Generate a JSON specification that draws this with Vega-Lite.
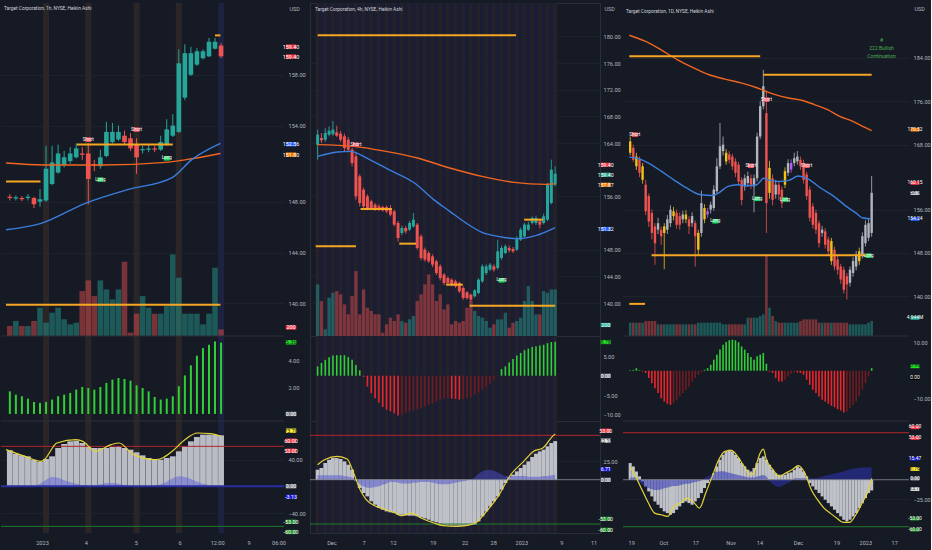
{
"$schema":"https://vega.github.io/schema/vega-lite/v6.json",
"background":"#161a25",
"padding":0,
"spacing":0,
"config":{
 "view":{"stroke":null},
 "axis":{"labelColor":"#b2b5be","labelFont":"Roboto","labelFontSize":5.6,"domain":false,"ticks":false,"gridColor":"#1e222d","labelPadding":4,"labelOverlap":false,"labelFlush":false},
 "text":{"font":"Roboto"},
 "title":{"font":"Roboto"}
},
"datasets":{
 "refs":[{"r":60,"k":"r"},{"r":-60,"k":"g"}],
 "p1lab":[{"i":6,"t":"2023"},{"i":13,"t":"4"},{"i":21,"t":"5"},{"i":28,"t":"6"},{"i":34,"t":"12:00"},{"i":39,"t":"9"},{"i":43.8,"t":"06:00"}],
 "p2lab":[{"i":4.85,"t":"Dec"},{"i":12.96,"t":"7"},{"i":20.35,"t":"12"},{"i":30.4,"t":"19"},{"i":38.4,"t":"22"},{"i":45.6,"t":"28"},{"i":52.7,"t":"2023"},{"i":62.8,"t":"9"},{"i":70.9,"t":"11"}],
 "p3lab":[{"i":2,"t":"19"},{"i":12,"t":"Oct"},{"i":22,"t":"17"},{"i":33,"t":"Nov"},{"i":42,"t":"14"},{"i":54,"t":"Dec"},{"i":66,"t":"19"},{"i":75,"t":"2023"},{"i":84,"t":"17"}],
 "p1":[
  {"i":0,"o":148.4,"c":148.3,"h":148.6,"l":148.1,"v":30,"m":1.7,"g":54,"b":1},
  {"i":1,"o":148.25,"c":148.35,"h":148.5,"l":148.1,"v":45,"m":1.45,"g":49,"b":1},
  {"i":2,"o":148.3,"c":148.2,"h":148.45,"l":148.05,"v":30,"m":1.33,"g":46.5,"b":1},
  {"i":3,"o":148.3,"c":148.4,"h":148.6,"l":148.1,"v":30,"m":1.15,"g":45,"b":0.5},
  {"i":4,"o":148.3,"c":147.8,"h":148.4,"l":147.5,"v":45,"m":0.9,"g":40,"b":0.5},
  {"i":5,"o":148.0,"c":148.2,"h":149.0,"l":147.6,"v":85,"m":0.83,"g":36.5,"b":4},
  {"i":6,"o":148.1,"c":150.6,"h":152.4,"l":148.0,"v":40,"m":0.9,"g":41,"b":10},
  {"i":7,"o":149.4,"c":151.1,"h":152.4,"l":149.3,"v":70,"m":1.08,"g":45,"b":14},
  {"i":8,"o":150.3,"c":151.8,"h":152.5,"l":150.2,"v":85,"m":1.33,"g":57.5,"b":13},
  {"i":9,"o":150.9,"c":151.5,"h":152.0,"l":150.7,"v":50,"m":1.45,"g":63.5,"b":9},
  {"i":10,"o":151.2,"c":151.8,"h":152.3,"l":151.0,"v":35,"m":1.58,"g":67.5,"b":6},
  {"i":11,"o":151.5,"c":152.2,"h":152.6,"l":151.4,"v":40,"m":1.83,"g":68.5,"b":4},
  {"i":12,"o":151.8,"c":151.7,"h":152.3,"l":151.3,"v":135,"m":2.03,"g":65,"b":2},
  {"i":13,"o":151.8,"c":149.8,"h":152.6,"l":147.8,"v":167,"m":1.95,"g":60,"b":1},
  {"i":14,"o":150.95,"c":150.85,"h":151.3,"l":150.4,"v":120,"m":1.83,"g":57.5,"b":1},
  {"i":15,"o":150.8,"c":151.5,"h":152.1,"l":150.6,"v":167,"m":2.03,"g":57.5,"b":3},
  {"i":16,"o":151.6,"c":153.5,"h":154.3,"l":151.5,"v":140,"m":2.33,"g":57.5,"b":5},
  {"i":17,"o":152.7,"c":153.5,"h":154.2,"l":152.6,"v":110,"m":2.58,"g":59,"b":5},
  {"i":18,"o":152.9,"c":153.5,"h":154.0,"l":152.8,"v":140,"m":2.7,"g":60,"b":4},
  {"i":19,"o":153.2,"c":152.7,"h":153.6,"l":152.5,"v":223,"m":2.63,"g":57.5,"b":2},
  {"i":20,"o":153.0,"c":152.2,"h":153.4,"l":152.0,"v":10,"m":2.5,"g":55,"b":1},
  {"i":21,"o":152.5,"c":151.5,"h":153.0,"l":150.2,"v":67,"m":2.15,"g":51,"b":0},
  {"i":22,"o":152.05,"c":152.15,"h":152.4,"l":151.8,"v":120,"m":1.95,"g":46.5,"b":0},
  {"i":23,"o":152.1,"c":152.2,"h":152.5,"l":151.9,"v":85,"m":1.7,"g":42.5,"b":0},
  {"i":24,"o":152.2,"c":152.1,"h":152.4,"l":151.9,"v":67,"m":1.28,"g":40,"b":1},
  {"i":25,"o":152.1,"c":152.7,"h":153.2,"l":152.0,"v":67,"m":1.08,"g":40,"b":3},
  {"i":26,"o":152.5,"c":153.7,"h":154.5,"l":152.4,"v":90,"m":1.15,"g":42.5,"b":7},
  {"i":27,"o":153.2,"c":154.0,"h":154.9,"l":153.1,"v":245,"m":1.33,"g":45,"b":12},
  {"i":28,"o":153.5,"c":158.9,"h":160.0,"l":153.4,"v":175,"m":2.08,"g":52.5,"b":15},
  {"i":29,"o":156.2,"c":159.7,"h":160.4,"l":156.0,"v":67,"m":2.9,"g":60,"b":14},
  {"i":30,"o":158.0,"c":159.7,"h":160.2,"l":157.9,"v":67,"m":3.65,"g":67.5,"b":11},
  {"i":31,"o":158.8,"c":159.85,"h":160.1,"l":158.7,"v":67,"m":4.38,"g":74,"b":7},
  {"i":32,"o":159.3,"c":159.85,"h":160.0,"l":159.2,"v":35,"m":4.95,"g":77.5,"b":4},
  {"i":33,"o":159.45,"c":160.6,"h":160.9,"l":159.4,"v":67,"m":5.2,"g":77.5,"b":2},
  {"i":34,"o":160.05,"c":160.6,"h":160.9,"l":160.0,"v":205,"m":5.45,"g":77.5,"b":1},
  {"i":35,"o":160.3,"c":159.45,"h":160.5,"l":159.3,"v":20,"m":5.36,"g":76.5,"b":1}
 ],
 "p1band":[{"i":6,"c":"o"},{"i":13,"c":"o"},{"i":21,"c":"o"},{"i":28,"c":"o"},{"i":35,"c":"b"}],
 "p1ema":[
  {"s":"o","i":-0.63,"v":151.05},{"s":"o","i":5.7,"v":150.9},{"s":"o","i":15.2,"v":150.9},{"s":"o","i":25.8,"v":151.1},{"s":"o","i":29,"v":151.3},{"s":"o","i":34.9,"v":151.8},
  {"s":"b","i":-0.63,"v":145.8},{"s":"b","i":5.2,"v":146.3},{"s":"b","i":12.6,"v":147.9},{"s":"b","i":19.5,"v":148.95},{"s":"b","i":26.9,"v":149.9},{"s":"b","i":30.1,"v":151.3},{"s":"b","i":34.9,"v":152.6}
 ],
 "p1y":[{"i":-0.63,"v":55},{"i":2.5,"v":45},{"i":5.1,"v":37.5},{"i":5.7,"v":40},{"i":7.8,"v":65},{"i":11,"v":70},{"i":12.1,"v":67.5},{"i":14.2,"v":52.5},{"i":16.8,"v":62.5},{"i":18.1,"v":65},{"i":20.5,"v":47.5},{"i":24.2,"v":40},{"i":25.3,"v":42.5},{"i":26.9,"v":52.5},{"i":29,"v":70},{"i":31.1,"v":80},{"i":33.2,"v":79},{"i":35,"v":75}],
 "p1lvl":[{"a":-0.63,"b":5.08,"v":149.6},{"a":11.1,"b":27,"v":152.5},{"a":-0.63,"b":34.9,"v":139.9},{"a":34,"b":34.9,"v":161.1}],
 "p1sig":[{"i":13,"v":152.89,"t":"Short"},{"i":21,"v":153.68,"t":"Short"},{"i":15,"v":149.74,"t":"Long"},{"i":26,"v":151.42,"t":"Long"}],
 "p1tag":[
  {"p":"a","t":"159.40","y":160.21,"c":"red"},{"p":"a","t":"159.40","y":159.43,"c":"red"},{"p":"a","t":"152.56","y":152.53,"c":"blue"},{"p":"a","t":"151.80","y":151.71,"c":"orange"},{"p":"a","t":"200","y":138.1,"c":"red"},
  {"p":"m","t":"5.36","y":5.39,"c":"green"},{"p":"m","t":"0.00","y":0,"c":"gray"},
  {"p":"o","t":"73.70","y":83.4,"c":"yellow"},{"p":"o","t":"60.00","y":68.4,"c":"red"},{"p":"o","t":"53.00","y":53.4,"c":"red"},{"p":"o","t":"0.00","y":0,"c":"gray"},{"p":"o","t":"-3.13","y":-15.6,"c":"navy"},{"p":"o","t":"-53.00","y":-53.1,"c":"dgreen"},{"p":"o","t":"-60.00","y":-68.5,"c":"dgreen"}
 ],
 "p2":[
  {"i":0,"o":163.75,"c":165.25,"h":166,"l":161.5,"v":155,"m":2.4,"g":13.5,"b":6},
  {"i":1,"o":164.75,"c":164.4,"h":165.5,"l":164,"v":105,"m":3.3,"g":15.8,"b":6},
  {"i":2,"o":164.5,"c":165.5,"h":166.2,"l":164.2,"v":20,"m":4.1,"g":22.6,"b":6},
  {"i":3,"o":165.25,"c":165.85,"h":166.5,"l":165,"v":115,"m":4.8,"g":27,"b":6},
  {"i":4,"o":165.3,"c":166,"h":167.3,"l":165.1,"v":130,"m":5.2,"g":29.3,"b":6},
  {"i":5,"o":165.6,"c":165.1,"h":166.6,"l":164.9,"v":135,"m":5.3,"g":29.3,"b":6},
  {"i":6,"o":165.4,"c":164.5,"h":165.8,"l":164.2,"v":125,"m":5.3,"g":28,"b":6},
  {"i":7,"o":165,"c":163.25,"h":165.4,"l":162.8,"v":95,"m":5.3,"g":24.8,"b":5},
  {"i":8,"o":164.5,"c":163,"h":164.9,"l":162.6,"v":65,"m":4.8,"g":20.3,"b":4},
  {"i":9,"o":163,"c":161,"h":163.3,"l":160.5,"v":120,"m":4.1,"g":13.5,"b":3},
  {"i":10,"o":162,"c":156,"h":162.5,"l":155.5,"v":195,"m":2.8,"g":-1,"b":-2},
  {"i":11,"o":159,"c":155,"h":159.3,"l":154.5,"v":65,"m":1.4,"g":-11.3,"b":-6},
  {"i":12,"o":157,"c":154.5,"h":157.3,"l":154,"v":140,"m":-0.3,"g":-18,"b":-9},
  {"i":13,"o":156,"c":154.25,"h":156.3,"l":153.9,"v":85,"m":-2.8,"g":-22.6,"b":-11},
  {"i":14,"o":155.25,"c":154.25,"h":155.5,"l":154,"v":75,"m":-4.5,"g":-29.3,"b":-11},
  {"i":15,"o":154.75,"c":154,"h":155,"l":153.8,"v":65,"m":-5.8,"g":-33.8,"b":-10},
  {"i":16,"o":154.5,"c":154,"h":154.8,"l":153.8,"v":65,"m":-6.9,"g":-38.3,"b":-9},
  {"i":17,"o":154.4,"c":153.9,"h":154.6,"l":153.7,"v":10,"m":-8.1,"g":-40.6,"b":-7},
  {"i":18,"o":154.4,"c":153.75,"h":154.6,"l":153.5,"v":35,"m":-8.8,"g":-42.9,"b":-5},
  {"i":19,"o":154.25,"c":153.25,"h":154.7,"l":153,"v":55,"m":-9.2,"g":-44.2,"b":-3},
  {"i":20,"o":153.75,"c":151.75,"h":154,"l":151.5,"v":45,"m":-9.7,"g":-45.1,"b":-3},
  {"i":21,"o":152,"c":149.75,"h":152.3,"l":149.2,"v":65,"m":-10.3,"g":-47.4,"b":-4},
  {"i":22,"o":150.5,"c":151.25,"h":151.6,"l":150.2,"v":45,"m":-10.1,"g":-47.4,"b":-5},
  {"i":23,"o":151.25,"c":150.75,"h":151.6,"l":150.4,"v":40,"m":-9.7,"g":-48.3,"b":-5},
  {"i":24,"o":151,"c":152,"h":152.3,"l":150.8,"v":50,"m":-9.2,"g":-48.7,"b":-5},
  {"i":25,"o":151.5,"c":152.5,"h":153.5,"l":151.3,"v":60,"m":-9,"g":-48.7,"b":-4},
  {"i":26,"o":151.75,"c":148.25,"h":152,"l":148,"v":105,"m":-8.6,"g":-49.6,"b":-4},
  {"i":27,"o":150,"c":146.75,"h":150.3,"l":146.4,"v":125,"m":-8.4,"g":-51,"b":-3},
  {"i":28,"o":148,"c":146.5,"h":148.3,"l":146.2,"v":155,"m":-7.9,"g":-52.3,"b":-3},
  {"i":29,"o":147.5,"c":146.25,"h":147.8,"l":146,"v":185,"m":-7.5,"g":-54.1,"b":-3},
  {"i":30,"o":147,"c":145.75,"h":147.3,"l":145.4,"v":155,"m":-7.1,"g":-56.4,"b":-4},
  {"i":31,"o":146.25,"c":144.5,"h":146.5,"l":144.2,"v":105,"m":-6.6,"g":-57.7,"b":-5},
  {"i":32,"o":145.5,"c":143.75,"h":145.8,"l":143.4,"v":125,"m":-6.2,"g":-59.5,"b":-6},
  {"i":33,"o":144.25,"c":143,"h":144.5,"l":142.7,"v":80,"m":-5.9,"g":-60.9,"b":-6},
  {"i":34,"o":143.75,"c":143,"h":144,"l":142.8,"v":95,"m":-5.8,"g":-61.3,"b":-6},
  {"i":35,"o":143.5,"c":142.75,"h":143.7,"l":142.5,"v":35,"m":-5.9,"g":-61.8,"b":-5},
  {"i":36,"o":143.25,"c":142.5,"h":143.5,"l":142.3,"v":45,"m":-6,"g":-61.8,"b":-4},
  {"i":37,"o":143,"c":141.75,"h":143.2,"l":141.5,"v":40,"m":-6.2,"g":-62.2,"b":-3},
  {"i":38,"o":142.25,"c":140.75,"h":142.5,"l":140.5,"v":45,"m":-6,"g":-62.2,"b":-2},
  {"i":39,"o":141.6,"c":140.75,"h":141.8,"l":140.5,"v":85,"m":-5.8,"g":-61.8,"b":-1},
  {"i":40,"o":141.25,"c":140.5,"h":141.4,"l":140.2,"v":105,"m":-5.5,"g":-61.3,"b":1},
  {"i":41,"o":141,"c":141.9,"h":142.1,"l":140.8,"v":75,"m":-4.9,"g":-60.9,"b":3},
  {"i":42,"o":141.5,"c":143.5,"h":143.7,"l":141.3,"v":60,"m":-4.3,"g":-56.4,"b":8},
  {"i":43,"o":143.25,"c":145.5,"h":145.8,"l":143,"v":55,"m":-3.6,"g":-49.6,"b":11},
  {"i":44,"o":144.5,"c":145.5,"h":145.8,"l":144.2,"v":45,"m":-2.9,"g":-42.9,"b":13},
  {"i":45,"o":145,"c":145.75,"h":146,"l":144.8,"v":25,"m":-2.1,"g":-36.1,"b":13},
  {"i":46,"o":145.5,"c":145,"h":145.8,"l":144.7,"v":35,"m":-1,"g":-29.3,"b":12},
  {"i":47,"o":145.25,"c":147.75,"h":149.5,"l":145,"v":50,"m":-0.2,"g":-22.6,"b":10},
  {"i":48,"o":146.75,"c":148.25,"h":148.6,"l":146.5,"v":50,"m":1.7,"g":-13.5,"b":7},
  {"i":49,"o":147.5,"c":148.5,"h":148.8,"l":147.3,"v":70,"m":2.4,"g":-4.5,"b":5},
  {"i":50,"o":148.25,"c":147.9,"h":148.6,"l":147.6,"v":25,"m":3.4,"g":3.6,"b":5},
  {"i":51,"o":148.1,"c":147.75,"h":148.4,"l":147.5,"v":40,"m":4.3,"g":6.8,"b":5},
  {"i":52,"o":148,"c":149.75,"h":150,"l":147.8,"v":45,"m":5.2,"g":11.3,"b":5},
  {"i":53,"o":149.5,"c":151,"h":151.3,"l":149.3,"v":55,"m":5.9,"g":15.8,"b":5},
  {"i":54,"o":150,"c":151.75,"h":152,"l":149.8,"v":105,"m":6.6,"g":20.3,"b":5},
  {"i":55,"o":151,"c":151.75,"h":152.2,"l":150.8,"v":150,"m":7,"g":24.8,"b":4},
  {"i":56,"o":152,"c":152.75,"h":153,"l":151.8,"v":105,"m":7.4,"g":30.7,"b":4},
  {"i":57,"o":152,"c":152.75,"h":153.1,"l":151.7,"v":65,"m":7.6,"g":35.2,"b":4},
  {"i":58,"o":152.25,"c":151.75,"h":152.6,"l":151.2,"v":65,"m":7.8,"g":38.3,"b":4},
  {"i":59,"o":152,"c":153,"h":153.4,"l":151.8,"v":135,"m":8,"g":40.6,"b":5},
  {"i":60,"o":152.5,"c":157.75,"h":158,"l":152.3,"v":130,"m":8.4,"g":45.1,"b":5},
  {"i":61,"o":155,"c":160,"h":161.5,"l":154.8,"v":140,"m":8.7,"g":49.6,"b":6},
  {"i":62,"o":157.75,"c":159.4,"h":160.5,"l":157.5,"v":140,"m":8.78,"g":52.18,"b":6.7}
 ],
 "p2ema":[
  {"s":"o","i":0,"v":163.75},{"s":"o","i":9.4,"v":163.5},{"s":"o","i":17.8,"v":162.75},{"s":"o","i":26.1,"v":161.75},{"s":"o","i":34.5,"v":160.25},{"s":"o","i":42.9,"v":159},{"s":"o","i":51.3,"v":158.1},{"s":"o","i":59.6,"v":157.8},{"s":"o","i":62,"v":157.87},
  {"s":"b","i":0,"v":162},{"s":"b","i":5.2,"v":162.65},{"s":"b","i":8.5,"v":162.75},{"s":"b","i":13.6,"v":161.5},{"s":"b","i":18.6,"v":160},{"s":"b","i":25.3,"v":158},{"s":"b","i":30.3,"v":155.5},{"s":"b","i":34.5,"v":153.75},{"s":"b","i":38.7,"v":152},{"s":"b","i":42.9,"v":150.6},{"s":"b","i":47.1,"v":150},{"s":"b","i":52.1,"v":149.65},{"s":"b","i":57.1,"v":150.15},{"s":"b","i":62,"v":151.32}
 ],
 "p2y":[{"i":0,"v":20.3},{"i":1.8,"v":27},{"i":5.2,"v":31.6},{"i":7.7,"v":28},{"i":9.4,"v":9},{"i":11.1,"v":-13.5},{"i":12.7,"v":-27},{"i":15.2,"v":-36},{"i":17.8,"v":-40.6},{"i":20.3,"v":-45.1},{"i":21.9,"v":-48.7},{"i":24.5,"v":-45.1},{"i":27,"v":-51.9},{"i":30.3,"v":-58.6},{"i":32.8,"v":-62.2},{"i":36.2,"v":-63.1},{"i":38.7,"v":-62.2},{"i":41.2,"v":-58.6},{"i":43.7,"v":-45.1},{"i":47.1,"v":-22.6},{"i":50.4,"v":6.8},{"i":53.8,"v":24.8},{"i":56.3,"v":38.3},{"i":58.8,"v":42.9},{"i":61.3,"v":58.6},{"i":62,"v":62}],
 "p2lvl":[{"a":0,"b":51.8,"v":180.15},{"a":11.2,"b":19.4,"v":154.1},{"a":-0.5,"b":10,"v":148.5},{"a":21.3,"b":25.7,"v":148.9},{"a":33.5,"b":37.9,"v":142.75},{"a":39.7,"b":62,"v":139.6},{"a":53.9,"b":58.8,"v":152.5}],
 "p2sig":[{"i":10,"v":163.75,"t":"Short"},{"i":48,"v":143.4,"t":"Long"}],
 "p2tag":[
  {"p":"a","t":"159.40","y":160.74,"c":"red"},{"p":"a","t":"159.40","y":159.24,"c":"teal"},{"p":"a","t":"157.87","y":157.74,"c":"orange"},{"p":"a","t":"151.32","y":151.1,"c":"blue"},{"p":"a","t":"200","y":136.7,"c":"teal"},
  {"p":"m","t":"8.78","y":8.7,"c":"green"},{"p":"m","t":"0.00","y":0,"c":"gray"},
  {"p":"o","t":"53.00","y":66.3,"c":"red"},{"p":"o","t":"52.18","y":52.8,"c":"white"},{"p":"o","t":"6.71","y":14.1,"c":"navy"},{"p":"o","t":"0.00","y":0,"c":"gray"},{"p":"o","t":"-53.00","y":-52.8,"c":"dgreen"},{"p":"o","t":"-60.00","y":-67.7,"c":"dgreen"}
 ],
 "p3":[
  {"i":0,"o":168.6,"c":166.5,"h":169.5,"l":166,"k":"y","v":40,"m":0.2,"g":21.3,"b":3},
  {"i":1,"o":167.4,"c":165.2,"h":168,"l":164.8,"k":"r","v":40,"m":0.3,"g":17,"b":3},
  {"i":2,"o":165.8,"c":164,"h":166.5,"l":163.3,"k":"y","v":40,"m":0.9,"g":10.6,"b":3},
  {"i":3,"o":165.2,"c":162.8,"h":165.8,"l":162,"k":"r","v":40,"m":0.2,"g":4.3,"b":-3},
  {"i":4,"o":164,"c":161.5,"h":164.6,"l":160.8,"k":"y","v":40,"m":-0.3,"g":-2.1,"b":-6},
  {"i":5,"o":160.6,"c":155.7,"h":161.5,"l":155,"k":"r","v":45,"m":-0.8,"g":-8.5,"b":-9},
  {"i":6,"o":158.5,"c":153.8,"h":159,"l":152.8,"k":"r","v":45,"m":-2.6,"g":-14.9,"b":-11},
  {"i":7,"o":155.4,"c":151.7,"h":156,"l":150.5,"k":"r","v":45,"m":-4.4,"g":-21.3,"b":-12},
  {"i":8,"o":152.9,"c":149.8,"h":153.5,"l":145.8,"k":"r","v":45,"m":-6.2,"g":-27.7,"b":-13},
  {"i":9,"o":152.3,"c":153.5,"h":154.5,"l":151.5,"k":"g","v":35,"m":-7.9,"g":-31.9,"b":-13},
  {"i":10,"o":152.3,"c":151.1,"h":152.9,"l":149.5,"k":"r","v":35,"m":-9.7,"g":-36.2,"b":-12},
  {"i":11,"o":151.7,"c":152.9,"h":153.5,"l":145,"k":"y","v":35,"m":-10.9,"g":-40.4,"b":-11},
  {"i":12,"o":152.3,"c":154.2,"h":155,"l":151.5,"k":"g","v":35,"m":-11.7,"g":-42.6,"b":-10},
  {"i":13,"o":153.5,"c":156,"h":156.8,"l":152.8,"k":"g","v":35,"m":-12.1,"g":-44.7,"b":-9},
  {"i":14,"o":155.7,"c":154.8,"h":156.5,"l":154,"k":"y","v":35,"m":-11.5,"g":-42.6,"b":-8},
  {"i":15,"o":155.4,"c":153.2,"h":156,"l":152.5,"k":"r","v":35,"m":-10.3,"g":-38.3,"b":-8},
  {"i":16,"o":154.8,"c":153.2,"h":155.5,"l":152.3,"k":"r","v":35,"m":-9.1,"g":-34,"b":-7},
  {"i":17,"o":154.2,"c":155.1,"h":155.8,"l":153.5,"k":"g","v":35,"m":-7.9,"g":-29.8,"b":-6},
  {"i":18,"o":154.2,"c":155.1,"h":155.9,"l":153.5,"k":"y","v":35,"m":-6.8,"g":-27.7,"b":-5},
  {"i":19,"o":154.2,"c":152.9,"h":154.8,"l":151.5,"k":"r","v":35,"m":-5.6,"g":-29.8,"b":-5},
  {"i":20,"o":153.5,"c":154.8,"h":155.5,"l":152.8,"k":"g","v":35,"m":-3.8,"g":-31.9,"b":-4},
  {"i":21,"o":153.5,"c":151.1,"h":154,"l":145.5,"k":"r","v":35,"m":-2.6,"g":-27.7,"b":-3},
  {"i":22,"o":151.7,"c":148.6,"h":152.3,"l":147.5,"k":"y","v":40,"m":-1.4,"g":-23.4,"b":-2},
  {"i":23,"o":151.7,"c":157.2,"h":159.5,"l":151,"k":"g","v":40,"m":-0.6,"g":-17,"b":-1},
  {"i":24,"o":156.3,"c":154.2,"h":157,"l":153.5,"k":"y","v":40,"m":0.3,"g":-10.6,"b":2},
  {"i":25,"o":155.1,"c":155.7,"h":156.3,"l":154.5,"k":"p","v":40,"m":0.9,"g":-4.3,"b":4},
  {"i":26,"o":156,"c":156.9,"h":157.5,"l":155.3,"k":"g","v":40,"m":2.1,"g":1.3,"b":6},
  {"i":27,"o":156.3,"c":159.7,"h":160.5,"l":155.8,"k":"g","v":40,"m":3.9,"g":8.5,"b":8},
  {"i":28,"o":159.4,"c":164,"h":165.5,"l":159,"k":"g","v":40,"m":5.7,"g":17,"b":10},
  {"i":29,"o":164,"c":167.7,"h":172,"l":163.5,"k":"g","v":40,"m":7.5,"g":25.5,"b":11},
  {"i":30,"o":166.8,"c":168,"h":169.5,"l":166,"k":"g","v":35,"m":9.2,"g":31.9,"b":11},
  {"i":31,"o":166.5,"c":164.9,"h":167.2,"l":164.3,"k":"y","v":35,"m":10.2,"g":36.2,"b":10},
  {"i":32,"o":166.2,"c":165.2,"h":166.8,"l":164.5,"k":"r","v":35,"m":10.8,"g":38.3,"b":9},
  {"i":33,"o":165.8,"c":164,"h":166.3,"l":163.3,"k":"r","v":35,"m":11,"g":36.2,"b":8},
  {"i":34,"o":164.9,"c":162.8,"h":165.5,"l":162,"k":"r","v":35,"m":10.8,"g":31.9,"b":7},
  {"i":35,"o":164.3,"c":161.2,"h":164.8,"l":160.5,"k":"r","v":35,"m":10.1,"g":27.7,"b":6},
  {"i":36,"o":161.5,"c":157.8,"h":162,"l":156.8,"k":"r","v":35,"m":8.6,"g":21.3,"b":5},
  {"i":37,"o":160.3,"c":161.8,"h":162.5,"l":159.5,"k":"g","v":35,"m":7.5,"g":17,"b":4},
  {"i":38,"o":160.9,"c":162.2,"h":163,"l":160.2,"k":"g","v":55,"m":6.3,"g":12.8,"b":3},
  {"i":39,"o":161.8,"c":160.6,"h":162.5,"l":159.8,"k":"r","v":55,"m":4.9,"g":10.6,"b":3},
  {"i":40,"o":160.3,"c":161.8,"h":162.5,"l":155.5,"k":"g","v":55,"m":3.9,"g":14.9,"b":3},
  {"i":41,"o":161.8,"c":169.5,"h":170.2,"l":161.2,"k":"g","v":55,"m":5.1,"g":21.3,"b":4},
  {"i":42,"o":169.5,"c":175.1,"h":176,"l":169,"k":"g","v":60,"m":5.7,"g":27.7,"b":5},
  {"i":43,"o":175.1,"c":178.8,"h":181.8,"l":174.5,"k":"g","v":65,"m":6.3,"g":29.8,"b":6},
  {"i":44,"o":173.8,"c":157.2,"h":178,"l":151.7,"k":"r","v":245,"m":2.5,"g":25.5,"b":4},
  {"i":45,"o":163.7,"c":159.1,"h":165,"l":158,"k":"y","v":85,"m":-0.3,"g":19.1,"b":-2},
  {"i":46,"o":161.8,"c":157.8,"h":162.5,"l":156.8,"k":"r","v":60,"m":-0.8,"g":12.8,"b":-5},
  {"i":47,"o":158.8,"c":160.6,"h":161.5,"l":158,"k":"g","v":45,"m":-2.6,"g":8.5,"b":-8},
  {"i":48,"o":160.6,"c":158.8,"h":161.2,"l":157.8,"k":"r","v":40,"m":-3.8,"g":6.4,"b":-9},
  {"i":49,"o":159.7,"c":157.2,"h":160.3,"l":156.3,"k":"r","v":40,"m":-3.8,"g":6.4,"b":-8},
  {"i":50,"o":160.6,"c":163.1,"h":163.8,"l":160,"k":"y","v":40,"m":-3.2,"g":6.4,"b":-6},
  {"i":51,"o":162.8,"c":164.6,"h":165.3,"l":162.2,"k":"g","v":40,"m":-2,"g":8.5,"b":-4},
  {"i":52,"o":163.4,"c":164.6,"h":165.3,"l":162.8,"k":"p","v":40,"m":-1.1,"g":9.4,"b":-2},
  {"i":53,"o":164.6,"c":165.5,"h":166.5,"l":164,"k":"g","v":40,"m":-0.6,"g":12.8,"b":2},
  {"i":54,"o":164.9,"c":165.8,"h":166.8,"l":164.3,"k":"g","v":40,"m":-0.6,"g":17,"b":2},
  {"i":55,"o":165.2,"c":164,"h":165.8,"l":163.3,"k":"r","v":45,"m":-0.8,"g":14.9,"b":2},
  {"i":56,"o":164.6,"c":161.5,"h":165.2,"l":160.8,"k":"r","v":50,"m":-1.4,"g":10.6,"b":2},
  {"i":57,"o":162.5,"c":158.5,"h":163,"l":157.8,"k":"r","v":50,"m":-3.2,"g":4.3,"b":2},
  {"i":58,"o":159.7,"c":154.5,"h":160.3,"l":153.8,"k":"r","v":50,"m":-5,"g":-4.3,"b":2},
  {"i":59,"o":156.6,"c":153.2,"h":157.2,"l":152.5,"k":"r","v":50,"m":-6.7,"g":-8.5,"b":2},
  {"i":60,"o":155.4,"c":152.3,"h":156,"l":151.5,"k":"r","v":50,"m":-7.9,"g":-12.8,"b":2},
  {"i":61,"o":153.5,"c":149.8,"h":154,"l":149,"k":"r","v":40,"m":-9.1,"g":-17,"b":3},
  {"i":62,"o":151.7,"c":152.3,"h":153,"l":151,"k":"g","v":40,"m":-10.3,"g":-21.3,"b":4},
  {"i":63,"o":152,"c":149.5,"h":152.6,"l":148.8,"k":"r","v":40,"m":-10.9,"g":-25.5,"b":5},
  {"i":64,"o":150.5,"c":148.3,"h":151,"l":147.5,"k":"r","v":40,"m":-11.7,"g":-29.8,"b":6},
  {"i":65,"o":150.2,"c":146.5,"h":150.8,"l":145.8,"k":"y","v":40,"m":-12.4,"g":-34,"b":7},
  {"i":66,"o":148.6,"c":145.5,"h":149.2,"l":144.8,"k":"r","v":40,"m":-12.9,"g":-38.3,"b":8},
  {"i":67,"o":146.8,"c":144.9,"h":147.5,"l":144,"k":"r","v":40,"m":-13.6,"g":-42.6,"b":9},
  {"i":68,"o":145.5,"c":143.1,"h":146,"l":142.3,"k":"r","v":40,"m":-14.1,"g":-46.8,"b":10},
  {"i":69,"o":144.9,"c":141.2,"h":145.5,"l":140.5,"k":"r","v":40,"m":-14.8,"g":-51.1,"b":11},
  {"i":70,"o":143.7,"c":142.2,"h":144.3,"l":139.4,"k":"r","v":40,"m":-14.4,"g":-53.2,"b":12},
  {"i":71,"o":142.5,"c":144.9,"h":145.5,"l":141.8,"k":"g","v":35,"m":-13.3,"g":-51,"b":13},
  {"i":72,"o":144.3,"c":146.5,"h":147.2,"l":143.6,"k":"g","v":35,"m":-12.1,"g":-47,"b":14},
  {"i":73,"o":145.5,"c":147.7,"h":148.4,"l":144.8,"k":"g","v":35,"m":-10.9,"g":-42.6,"b":15},
  {"i":74,"o":146.5,"c":148.3,"h":149,"l":145.8,"k":"y","v":35,"m":-9.1,"g":-36,"b":15},
  {"i":75,"o":147.7,"c":151.1,"h":151.8,"l":147,"k":"g","v":35,"m":-6.7,"g":-30,"b":15.5},
  {"i":76,"o":149.8,"c":153.2,"h":154,"l":149.2,"k":"g","v":35,"m":-4.4,"g":-23.4,"b":15.5},
  {"i":77,"o":150.8,"c":153.5,"h":154.3,"l":150.2,"k":"g","v":40,"m":-2,"g":-17,"b":15.5},
  {"i":78,"o":151.7,"c":159.1,"h":162.2,"l":151,"k":"g","v":45,"m":0.9,"g":-13.7,"b":15.5}
 ],
 "p3ema":[
  {"s":"o","i":-0.3,"v":188.2},{"s":"o","i":4.8,"v":187.1},{"s":"o","i":10,"v":185.5},{"s":"o","i":15.2,"v":183.7},{"s":"o","i":20.3,"v":182.2},{"s":"o","i":25.5,"v":180.9},{"s":"o","i":30.6,"v":180.1},{"s":"o","i":35.8,"v":179.4},{"s":"o","i":40.9,"v":178.5},{"s":"o","i":44,"v":177.8},{"s":"o","i":47.1,"v":177.2},{"s":"o","i":51.2,"v":176.6},{"s":"o","i":55.4,"v":176.2},{"s":"o","i":59.5,"v":175.4},{"s":"o","i":63.6,"v":174.5},{"s":"o","i":67.7,"v":173.2},{"s":"o","i":71.9,"v":172.3},{"s":"o","i":74.9,"v":171.4},{"s":"o","i":78,"v":170.6},
  {"s":"b","i":-0.3,"v":165.7},{"s":"b","i":2.8,"v":165.4},{"s":"b","i":5.9,"v":164.6},{"s":"b","i":10,"v":163.1},{"s":"b","i":14.1,"v":161.5},{"s":"b","i":18.2,"v":160},{"s":"b","i":22.4,"v":158.8},{"s":"b","i":26.5,"v":158.6},{"s":"b","i":28.6,"v":159.1},{"s":"b","i":31.6,"v":160.3},{"s":"b","i":34.7,"v":160.6},{"s":"b","i":37.8,"v":160.4},{"s":"b","i":40.9,"v":160.6},{"s":"b","i":42,"v":161.2},{"s":"b","i":43,"v":161.8},{"s":"b","i":45.1,"v":161.4},{"s":"b","i":48.1,"v":161.2},{"s":"b","i":51.2,"v":161.4},{"s":"b","i":54.3,"v":162.2},{"s":"b","i":57.4,"v":161.7},{"s":"b","i":61.5,"v":160},{"s":"b","i":65.7,"v":158.5},{"s":"b","i":69.8,"v":156.6},{"s":"b","i":72.9,"v":155.4},{"s":"b","i":74.9,"v":154.5},{"s":"b","i":77.8,"v":154.3}
 ],
 "p3y":[{"i":0,"v":17},{"i":1.75,"v":4.3},{"i":3.8,"v":-12.8},{"i":5.9,"v":-29.8},{"i":7.9,"v":-42.6},{"i":10,"v":-44.7},{"i":12.1,"v":-46.8},{"i":14.1,"v":-34},{"i":16.2,"v":-29.8},{"i":18.2,"v":-23.4},{"i":20.3,"v":-27.7},{"i":22.4,"v":-36.2},{"i":24.4,"v":-17},{"i":26.5,"v":4.3},{"i":28.6,"v":25.5},{"i":30.6,"v":36.2},{"i":32.7,"v":37.4},{"i":34.7,"v":29.8},{"i":36.8,"v":17},{"i":38.9,"v":6.4},{"i":39.9,"v":8.5},{"i":40.9,"v":21.3},{"i":42,"v":34},{"i":43,"v":39},{"i":44,"v":25.5},{"i":46.1,"v":12.8},{"i":48.1,"v":4.3},{"i":50.2,"v":8.5},{"i":52.3,"v":12.8},{"i":54.3,"v":17.9},{"i":56.4,"v":8.5},{"i":58.5,"v":-12.8},{"i":60.5,"v":-25.5},{"i":62.6,"v":-36.2},{"i":64.6,"v":-42.6},{"i":66.7,"v":-48.9},{"i":68.8,"v":-54.5},{"i":70.8,"v":-54.5},{"i":72.9,"v":-44.7},{"i":74.9,"v":-29.8},{"i":77,"v":-12.8},{"i":78,"v":1.76}],
 "p3lvl":[{"a":-0.3,"b":42,"v":184.3},{"a":43,"b":78,"v":180.9},{"a":6.9,"b":78,"v":147.6},{"a":-0.3,"b":4.8,"v":138.6}],
 "p3sig":[{"i":1.5,"v":169.85,"t":"Short"},{"i":44,"v":176.3,"t":"Short"},{"i":39,"v":164.1,"t":"Short"},{"i":57,"v":164.1,"t":"Short"},{"i":27.5,"v":153.85,"t":"Long"},{"i":41,"v":158,"t":"Long"},{"i":50,"v":157.85,"t":"Long"},{"i":77,"v":147.5,"t":"Long"}],
 "p3tag":[
  {"p":"a","t":"170.52","y":170.76,"c":"orange"},{"p":"a","t":"160.15","y":160.92,"c":"red"},{"p":"a","t":"158.94","y":159.07,"c":"white"},{"p":"a","t":"154.24","y":154.27,"c":"blue"},{"p":"a","t":"4.944M","y":136,"c":"teal"},
  {"p":"m","t":"0.99","y":1.56,"c":"green"},{"p":"m","t":"0.00","y":-2.6,"c":"black"},
  {"p":"o","t":"60.00","y":66.9,"c":"red"},{"p":"o","t":"53.00","y":53.3,"c":"red"},{"p":"o","t":"15.47","y":26.8,"c":"navy"},{"p":"o","t":"1.76","y":13.7,"c":"yellow"},{"p":"o","t":"0.00","y":1.3,"c":"gray"},{"p":"o","t":"-13.72","y":-11.9,"c":"white"},{"p":"o","t":"-53.00","y":-49.8,"c":"dgreen"},{"p":"o","t":"-60.00","y":-63.9,"c":"dgreen"}
 ],
 "p3txt":[{"i":81.2,"v":187.4,"t":"#"},{"i":81.2,"v":185.9,"t":"222 Bullish"},{"i":81.2,"v":184.4,"t":"Continuation"}]
},
"hconcat":[
 {"spacing":0,"bounds":"flush","vconcat":[
  {"width":283,"height":333,
   "title":{"text":"Target Corporation, 1h, NYSE, Heikin Ashi","anchor":"start","frame":"group","offset":-11,"fontSize":4.8,"fontWeight":"normal","color":"#d1d4dc","dx":3},
   "layer":[
    {"data":{"name":"p1band"},"mark":{"type":"rule","strokeWidth":6},"encoding":{"x":{"field":"i","type":"quantitative","scale":{"domain":[-0.635,44.6],"nice":false,"zero":false},"axis":null},"color":{"field":"c","type":"nominal","scale":{"domain":["o","b"],"range":["#2a2628","#1d2240"]},"legend":null}}},
    {"data":{"name":"p1"},"mark":{"type":"bar","size":5.6,"opacity":0.45},"encoding":{"x":{"field":"i","type":"quantitative","axis":null},"y":{"field":"v","type":"quantitative","scale":{"domain":[0,1000]},"axis":null},"color":{"condition":{"test":"datum.c>=datum.o","value":"#26a69a"},"value":"#ef5350"}}},
    {"layer":[
     {"data":{"name":"p1"},"mark":{"type":"rule","strokeWidth":1},"encoding":{"x":{"field":"i","type":"quantitative","axis":null},"y":{"field":"l","type":"quantitative","scale":{"domain":[137.43,163.65],"nice":false,"zero":false},"axis":{"orient":"right","values":[140,142,144,146,148,150,154,156,158,162],"format":".2f","grid":true,"labelOverlap":false,"labelFlush":false,"labelPadding":4,"minExtent":25,"maxExtent":25,"title":"USD","titleAngle":0,"titleX":5,"titleY":3,"titleAlign":"left","titleBaseline":"top","titleFontSize":5.4,"titleFontWeight":"normal","titleColor":"#b2b5be","titleFont":"Roboto"}},"y2":{"field":"h"},"color":{"condition":{"test":"datum.c>=datum.o","value":"#26a69a"},"value":"#ef5350"}}},
     {"data":{"name":"p1"},"mark":{"type":"bar","size":4.6},"encoding":{"x":{"field":"i","type":"quantitative","axis":null},"y":{"field":"o","type":"quantitative"},"y2":{"field":"c"},"color":{"condition":{"test":"datum.c>=datum.o","value":"#26a69a"},"value":"#ef5350"}}},
     {"data":{"name":"p1ema"},"mark":{"type":"line","strokeWidth":1.4,"interpolate":"monotone","clip":true},"encoding":{"x":{"field":"i","type":"quantitative","axis":null},"y":{"field":"v","type":"quantitative"},"color":{"field":"s","type":"nominal","scale":{"domain":["o","b"],"range":["#f0651f","#3b7ddd"]},"legend":null}}},
     {"data":{"name":"p1lvl"},"mark":{"type":"rule","strokeWidth":2,"color":"#f5a623","clip":true},"encoding":{"x":{"field":"a","type":"quantitative","axis":null},"x2":{"field":"b"},"y":{"field":"v","type":"quantitative"}}},
     {"data":{"name":"p1sig"},"mark":{"type":"point","shape":"M-1,-0.75L1,-0.75L1,0.75L-1,0.75Z","size":36,"filled":true,"opacity":1},"encoding":{"x":{"field":"i","type":"quantitative","axis":null},"y":{"field":"v","type":"quantitative"},"color":{"condition":{"test":"datum.t=='Short'","value":"#f7525f"},"value":"#1ed760"}}},
     {"data":{"name":"p1sig"},"mark":{"type":"text","fontSize":4.6,"color":"#ffffff"},"encoding":{"x":{"field":"i","type":"quantitative","axis":null},"y":{"field":"v","type":"quantitative"},"text":{"field":"t"}}},
     {"data":{"name":"p1tag"},"transform":[{"filter":"datum.p=='a'"}],"mark":{"type":"point","shape":"M-1,-0.42L1,-0.42L1,0.42L-1,0.42Z","size":110,"filled":true,"opacity":1},"encoding":{"x":{"datum":46.6,"type":"quantitative","axis":null},"y":{"field":"y","type":"quantitative"},"color":{"field":"c","type":"nominal","scale":{"domain":["red","teal","blue","orange","green","dgreen","gray","yellow","white","black","navy"],"range":["#f23645","#22ab94","#2962ff","#f57c00","#22e522","#1b8c24","#787b86","#ffee33","#e6e7ea","#000000","#1d1de0"]},"legend":null}}},
     {"data":{"name":"p1tag"},"transform":[{"filter":"datum.p=='a'"}],"mark":{"type":"text","fontSize":5.4},"encoding":{"x":{"datum":46.6,"type":"quantitative","axis":null},"y":{"field":"y","type":"quantitative"},"text":{"field":"t"},"color":{"condition":{"test":"indexof(['yellow','white','green'],datum.c)>=0","value":"#131722"},"value":"#ffffff"}}}
    ],"resolve":{"scale":{"color":"independent"}}}
   ],
   "resolve":{"scale":{"y":"independent","color":"independent"}}
  },
  {"width":283,"height":85,
   "layer":[
    {"data":{"name":"p1band"},"mark":{"type":"rule","strokeWidth":6},"encoding":{"x":{"field":"i","type":"quantitative","scale":{"domain":[-0.635,44.6],"nice":false,"zero":false},"axis":null},"color":{"field":"c","type":"nominal","scale":{"domain":["o","b"],"range":["#2a2628","#1d2240"]},"legend":null}}},
    {"data":{"values":[{"r":5.86}]},"mark":{"type":"rule","color":"#2a2e39"},"encoding":{"y":{"field":"r","type":"quantitative"}}},
    {"data":{"name":"p1"},"transform":[{"window":[{"op":"lag","field":"m","as":"pm"}],"sort":[{"field":"i"}]}],"mark":{"type":"bar","size":2},"encoding":{"x":{"field":"i","type":"quantitative","axis":null},"y":{"field":"m","type":"quantitative","scale":{"domain":[-0.53,5.86],"nice":false,"zero":false},"axis":{"orient":"right","values":[2,4],"format":".2f","grid":false,"labelOverlap":false,"labelFlush":false,"labelPadding":4,"minExtent":25,"maxExtent":25,"title":null}},"y2":{"datum":0},"color":{"condition":[{"test":"datum.m>=0","value":"#2fcf36"},{"test":"datum.pm==null||datum.m<=datum.pm","value":"#e8262b"}],"value":"#701c20"}}},
    {"data":{"name":"p1tag"},"transform":[{"filter":"datum.p=='m'"}],"mark":{"type":"point","shape":"M-1,-0.42L1,-0.42L1,0.42L-1,0.42Z","size":110,"filled":true,"opacity":1},"encoding":{"x":{"datum":46.6,"type":"quantitative","axis":null},"y":{"field":"y","type":"quantitative"},"color":{"field":"c","type":"nominal","scale":{"domain":["red","teal","blue","orange","green","dgreen","gray","yellow","white","black","navy"],"range":["#f23645","#22ab94","#2962ff","#f57c00","#22e522","#1b8c24","#787b86","#ffee33","#e6e7ea","#000000","#1d1de0"]},"legend":null}}},
    {"data":{"name":"p1tag"},"transform":[{"filter":"datum.p=='m'"}],"mark":{"type":"text","fontSize":5.4},"encoding":{"x":{"datum":46.6,"type":"quantitative","axis":null},"y":{"field":"y","type":"quantitative"},"text":{"field":"t"},"color":{"condition":{"test":"indexof(['yellow','white','green'],datum.c)>=0","value":"#131722"},"value":"#ffffff"}}}
   ],
   "resolve":{"scale":{"color":"independent"}}
  },
  {"width":283,"height":112,
   "layer":[
    {"data":{"name":"p1band"},"mark":{"type":"rule","strokeWidth":6},"encoding":{"x":{"field":"i","type":"quantitative","scale":{"domain":[-0.635,44.6],"nice":false,"zero":false},"axis":null},"color":{"field":"c","type":"nominal","scale":{"domain":["o","b"],"range":["#2a2628","#1d2240"]},"legend":null}}},
    {"data":{"values":[{"r":98}]},"mark":{"type":"rule","color":"#2a2e39"},"encoding":{"y":{"field":"r","type":"quantitative"}}},
    {"data":{"name":"p1"},"mark":{"type":"bar","size":5.8,"color":"#b9bcc4"},"encoding":{"x":{"field":"i","type":"quantitative","axis":null},"y":{"field":"g","type":"quantitative","scale":{"domain":[-70,98],"nice":false,"zero":false},"axis":{"orient":"right","values":[40,-40],"format":".2f","grid":true,"labelOverlap":false,"labelFlush":false,"labelPadding":4,"minExtent":25,"maxExtent":25,"title":null}},"y2":{"datum":0}}},
    {"data":{"name":"p1"},"mark":{"type":"area","color":"#5b5fd8","opacity":0.5,"interpolate":"monotone"},"encoding":{"x":{"field":"i","type":"quantitative","axis":null},"y":{"field":"b","type":"quantitative"},"y2":{"datum":0}}},
    {"data":{"values":[{"r":0}]},"mark":{"type":"rule","color":"#2a2fa0","strokeWidth":2},"encoding":{"y":{"field":"r","type":"quantitative"}}},
    {"data":{"name":"refs"},"mark":{"type":"rule","strokeWidth":1},"encoding":{"y":{"field":"r","type":"quantitative"},"color":{"field":"k","type":"nominal","scale":{"domain":["r","g"],"range":["#b3262b","#1f7a2a"]},"legend":null}}},
    {"data":{"name":"p1y"},"mark":{"type":"line","color":"#e5d33a","strokeWidth":1.2,"interpolate":"monotone","clip":true},"encoding":{"x":{"field":"i","type":"quantitative","axis":null},"y":{"field":"v","type":"quantitative"}}},
    {"data":{"name":"p1tag"},"transform":[{"filter":"datum.p=='o'"}],"mark":{"type":"point","shape":"M-1,-0.42L1,-0.42L1,0.42L-1,0.42Z","size":110,"filled":true,"opacity":1},"encoding":{"x":{"datum":46.6,"type":"quantitative","axis":null},"y":{"field":"y","type":"quantitative"},"color":{"field":"c","type":"nominal","scale":{"domain":["red","teal","blue","orange","green","dgreen","gray","yellow","white","black","navy"],"range":["#f23645","#22ab94","#2962ff","#f57c00","#22e522","#1b8c24","#787b86","#ffee33","#e6e7ea","#000000","#1d1de0"]},"legend":null}}},
    {"data":{"name":"p1tag"},"transform":[{"filter":"datum.p=='o'"}],"mark":{"type":"text","fontSize":5.4},"encoding":{"x":{"datum":46.6,"type":"quantitative","axis":null},"y":{"field":"y","type":"quantitative"},"text":{"field":"t"},"color":{"condition":{"test":"indexof(['yellow','white','green'],datum.c)>=0","value":"#131722"},"value":"#ffffff"}}}
   ],
   "resolve":{"scale":{"color":"independent"}}
  },
  {"width":283,"height":20,"data":{"name":"p1lab"},"mark":{"type":"text","fontSize":5.6,"color":"#b2b5be"},"encoding":{"x":{"field":"i","type":"quantitative","scale":{"domain":[-0.635,44.6],"nice":false,"zero":false},"axis":null},"text":{"field":"t"}}}
 ]},
 {"spacing":0,"bounds":"flush","vconcat":[
  {"width":290,"height":333,"view":{"stroke":"#2a2e39"},
   "title":{"text":"Target Corporation, 4h, NYSE, Heikin Ashi","anchor":"start","frame":"group","offset":-11,"fontSize":4.8,"fontWeight":"normal","color":"#d1d4dc","dx":5},
   "layer":[
    {"data":{"name":"p2"},"mark":{"type":"rule","strokeWidth":4},"encoding":{"x":{"field":"i","type":"quantitative","scale":{"domain":[-0.68,72.4],"nice":false,"zero":false},"axis":null},"color":{"condition":{"test":"datum.i%2==0","value":"#24212b"},"value":"#1a1e35"}}},
    {"data":{"name":"p2"},"mark":{"type":"bar","size":3.4,"opacity":0.45},"encoding":{"x":{"field":"i","type":"quantitative","axis":null},"y":{"field":"v","type":"quantitative","scale":{"domain":[0,1000]},"axis":null},"color":{"condition":{"test":"datum.c>=datum.o","value":"#26a69a"},"value":"#ef5350"}}},
    {"layer":[
     {"data":{"name":"p2"},"mark":{"type":"rule","strokeWidth":0.9},"encoding":{"x":{"field":"i","type":"quantitative","axis":null},"y":{"field":"l","type":"quantitative","scale":{"domain":[135.05,185],"nice":false,"zero":false},"axis":{"orient":"right","values":[140,144,148,156,164,168,172,176,180],"format":".2f","grid":true,"labelOverlap":false,"labelFlush":false,"labelPadding":3,"minExtent":21,"maxExtent":21,"title":"USD","titleAngle":0,"titleX":4,"titleY":3,"titleAlign":"left","titleBaseline":"top","titleFontSize":5.4,"titleFontWeight":"normal","titleColor":"#b2b5be","titleFont":"Roboto"}},"y2":{"field":"h"},"color":{"condition":{"test":"datum.c>=datum.o","value":"#26a69a"},"value":"#ef5350"}}},
     {"data":{"name":"p2"},"mark":{"type":"bar","size":3},"encoding":{"x":{"field":"i","type":"quantitative","axis":null},"y":{"field":"o","type":"quantitative"},"y2":{"field":"c"},"color":{"condition":{"test":"datum.c>=datum.o","value":"#26a69a"},"value":"#ef5350"}}},
     {"data":{"name":"p2ema"},"mark":{"type":"line","strokeWidth":1.4,"interpolate":"monotone","clip":true},"encoding":{"x":{"field":"i","type":"quantitative","axis":null},"y":{"field":"v","type":"quantitative"},"color":{"field":"s","type":"nominal","scale":{"domain":["o","b"],"range":["#f0651f","#3b7ddd"]},"legend":null}}},
     {"data":{"name":"p2lvl"},"mark":{"type":"rule","strokeWidth":2,"color":"#f5a623","clip":true},"encoding":{"x":{"field":"a","type":"quantitative","axis":null},"x2":{"field":"b"},"y":{"field":"v","type":"quantitative"}}},
     {"data":{"name":"p2sig"},"mark":{"type":"point","shape":"M-1,-0.75L1,-0.75L1,0.75L-1,0.75Z","size":36,"filled":true,"opacity":1},"encoding":{"x":{"field":"i","type":"quantitative","axis":null},"y":{"field":"v","type":"quantitative"},"color":{"condition":{"test":"datum.t=='Short'","value":"#f7525f"},"value":"#1ed760"}}},
     {"data":{"name":"p2sig"},"mark":{"type":"text","fontSize":4.6,"color":"#ffffff"},"encoding":{"x":{"field":"i","type":"quantitative","axis":null},"y":{"field":"v","type":"quantitative"},"text":{"field":"t"}}},
     {"data":{"name":"p2tag"},"transform":[{"filter":"datum.p=='a'"}],"mark":{"type":"point","shape":"M-1,-0.42L1,-0.42L1,0.42L-1,0.42Z","size":100,"filled":true,"opacity":1},"encoding":{"x":{"datum":75.2,"type":"quantitative","axis":null},"y":{"field":"y","type":"quantitative"},"color":{"field":"c","type":"nominal","scale":{"domain":["red","teal","blue","orange","green","dgreen","gray","yellow","white","black","navy"],"range":["#f23645","#22ab94","#2962ff","#f57c00","#22e522","#1b8c24","#787b86","#ffee33","#e6e7ea","#000000","#1d1de0"]},"legend":null}}},
     {"data":{"name":"p2tag"},"transform":[{"filter":"datum.p=='a'"}],"mark":{"type":"text","fontSize":5.2},"encoding":{"x":{"datum":75.2,"type":"quantitative","axis":null},"y":{"field":"y","type":"quantitative"},"text":{"field":"t"},"color":{"condition":{"test":"indexof(['yellow','white','green'],datum.c)>=0","value":"#131722"},"value":"#ffffff"}}}
    ],"resolve":{"scale":{"color":"independent"}}}
   ],
   "resolve":{"scale":{"y":"independent","color":"independent"}}
  },
  {"width":290,"height":85,"view":{"stroke":"#2a2e39"},
   "layer":[
    {"data":{"name":"p2"},"mark":{"type":"rule","strokeWidth":4},"encoding":{"x":{"field":"i","type":"quantitative","scale":{"domain":[-0.68,72.4],"nice":false,"zero":false},"axis":null},"color":{"condition":{"test":"datum.i%2==0","value":"#24212b"},"value":"#1a1e35"}}},
    {"data":{"name":"p2"},"transform":[{"window":[{"op":"lag","field":"m","as":"pm"}],"sort":[{"field":"i"}]}],"mark":{"type":"bar","size":1.6},"encoding":{"x":{"field":"i","type":"quantitative","axis":null},"y":{"field":"m","type":"quantitative","scale":{"domain":[-11.7,10.26],"nice":false,"zero":false},"axis":{"orient":"right","values":[5,-5,-10],"format":".2f","grid":false,"labelOverlap":false,"labelFlush":false,"labelPadding":3,"minExtent":21,"maxExtent":21,"title":null}},"y2":{"datum":0},"color":{"condition":[{"test":"datum.m>=0","value":"#2fcf36"},{"test":"datum.pm==null||datum.m<=datum.pm","value":"#e8262b"}],"value":"#701c20"}}},
    {"data":{"name":"p2tag"},"transform":[{"filter":"datum.p=='m'"}],"mark":{"type":"point","shape":"M-1,-0.42L1,-0.42L1,0.42L-1,0.42Z","size":100,"filled":true,"opacity":1},"encoding":{"x":{"datum":75.2,"type":"quantitative","axis":null},"y":{"field":"y","type":"quantitative"},"color":{"field":"c","type":"nominal","scale":{"domain":["red","teal","blue","orange","green","dgreen","gray","yellow","white","black","navy"],"range":["#f23645","#22ab94","#2962ff","#f57c00","#22e522","#1b8c24","#787b86","#ffee33","#e6e7ea","#000000","#1d1de0"]},"legend":null}}},
    {"data":{"name":"p2tag"},"transform":[{"filter":"datum.p=='m'"}],"mark":{"type":"text","fontSize":5.2},"encoding":{"x":{"datum":75.2,"type":"quantitative","axis":null},"y":{"field":"y","type":"quantitative"},"text":{"field":"t"},"color":{"condition":{"test":"indexof(['yellow','white','green'],datum.c)>=0","value":"#131722"},"value":"#ffffff"}}}
   ],
   "resolve":{"scale":{"color":"independent"}}
  },
  {"width":290,"height":112,"view":{"stroke":"#2a2e39"},
   "layer":[
    {"data":{"name":"p2"},"mark":{"type":"rule","strokeWidth":4},"encoding":{"x":{"field":"i","type":"quantitative","scale":{"domain":[-0.68,72.4],"nice":false,"zero":false},"axis":null},"color":{"condition":{"test":"datum.i%2==0","value":"#24212b"},"value":"#1a1e35"}}},
    {"data":{"name":"p2"},"mark":{"type":"bar","size":3.9,"color":"#bfc1c8"},"encoding":{"x":{"field":"i","type":"quantitative","axis":null},"y":{"field":"g","type":"quantitative","scale":{"domain":[-72.1,79.4],"nice":false,"zero":false},"axis":{"orient":"right","values":[25],"format":".2f","grid":true,"labelOverlap":false,"labelFlush":false,"labelPadding":3,"minExtent":21,"maxExtent":21,"title":null}},"y2":{"datum":0}}},
    {"data":{"name":"p2"},"mark":{"type":"area","color":"#4a4ed0","opacity":0.5,"interpolate":"monotone"},"encoding":{"x":{"field":"i","type":"quantitative","axis":null},"y":{"field":"b","type":"quantitative"},"y2":{"datum":0}}},
    {"data":{"values":[{"r":0}]},"mark":{"type":"rule","color":"#8a8d96","strokeWidth":0.8},"encoding":{"y":{"field":"r","type":"quantitative"}}},
    {"data":{"name":"refs"},"mark":{"type":"rule","strokeWidth":1},"encoding":{"y":{"field":"r","type":"quantitative"},"color":{"field":"k","type":"nominal","scale":{"domain":["r","g"],"range":["#b3262b","#1f7a2a"]},"legend":null}}},
    {"data":{"name":"p2y"},"mark":{"type":"line","color":"#e5d33a","strokeWidth":1.2,"interpolate":"monotone","clip":true},"encoding":{"x":{"field":"i","type":"quantitative","axis":null},"y":{"field":"v","type":"quantitative"}}},
    {"data":{"name":"p2tag"},"transform":[{"filter":"datum.p=='o'"}],"mark":{"type":"point","shape":"M-1,-0.42L1,-0.42L1,0.42L-1,0.42Z","size":100,"filled":true,"opacity":1},"encoding":{"x":{"datum":75.2,"type":"quantitative","axis":null},"y":{"field":"y","type":"quantitative"},"color":{"field":"c","type":"nominal","scale":{"domain":["red","teal","blue","orange","green","dgreen","gray","yellow","white","black","navy"],"range":["#f23645","#22ab94","#2962ff","#f57c00","#22e522","#1b8c24","#787b86","#ffee33","#e6e7ea","#000000","#1d1de0"]},"legend":null}}},
    {"data":{"name":"p2tag"},"transform":[{"filter":"datum.p=='o'"}],"mark":{"type":"text","fontSize":5.2},"encoding":{"x":{"datum":75.2,"type":"quantitative","axis":null},"y":{"field":"y","type":"quantitative"},"text":{"field":"t"},"color":{"condition":{"test":"indexof(['yellow','white','green'],datum.c)>=0","value":"#131722"},"value":"#ffffff"}}}
   ],
   "resolve":{"scale":{"color":"independent"}}
  },
  {"width":290,"height":20,"data":{"name":"p2lab"},"mark":{"type":"text","fontSize":5.6,"color":"#b2b5be"},"encoding":{"x":{"field":"i","type":"quantitative","scale":{"domain":[-0.68,72.4],"nice":false,"zero":false},"axis":null},"text":{"field":"t"}}}
 ]},
 {"spacing":0,"bounds":"flush","vconcat":[
  {"width":286,"height":333,
   "title":{"text":"Target Corporation, 1D, NYSE, Heikin Ashi","anchor":"start","frame":"group","offset":-11,"fontSize":4.8,"fontWeight":"normal","color":"#d1d4dc","dx":3},
   "layer":[
    {"data":{"name":"p3"},"mark":{"type":"bar","size":2.6,"opacity":0.45},"encoding":{"x":{"field":"i","type":"quantitative","scale":{"domain":[-0.71,88.45],"nice":false,"zero":false},"axis":null},"y":{"field":"v","type":"quantitative","scale":{"domain":[0,1000]},"axis":null},"color":{"condition":{"test":"datum.k=='r'","value":"#ef5350"},"value":"#26a69a"}}},
    {"layer":[
     {"data":{"name":"p3"},"mark":{"type":"rule","strokeWidth":0.8},"encoding":{"x":{"field":"i","type":"quantitative","axis":null},"y":{"field":"l","type":"quantitative","scale":{"domain":[132.67,194.15],"nice":false,"zero":false},"axis":{"orient":"right","values":[140,144,148,152,156,164,168,172,176,180,184,188],"format":".2f","grid":true,"labelOverlap":false,"labelFlush":false,"labelPadding":4,"minExtent":22,"maxExtent":22,"title":"USD","titleAngle":0,"titleX":5,"titleY":3,"titleAlign":"left","titleBaseline":"top","titleFontSize":5.4,"titleFontWeight":"normal","titleColor":"#b2b5be","titleFont":"Roboto"}},"y2":{"field":"h"},"color":{"field":"k","type":"nominal","scale":{"domain":["r","g","y","p"],"range":["#ef5350","#b2b5be","#f2c21b","#b05cf5"]},"legend":null}}},
     {"data":{"name":"p3"},"mark":{"type":"bar","size":2.4},"encoding":{"x":{"field":"i","type":"quantitative","axis":null},"y":{"field":"o","type":"quantitative"},"y2":{"field":"c"},"color":{"field":"k","type":"nominal","scale":{"domain":["r","g","y","p"],"range":["#ef5350","#b2b5be","#f2c21b","#b05cf5"]},"legend":null}}},
     {"data":{"name":"p3ema"},"mark":{"type":"line","strokeWidth":1.4,"interpolate":"monotone","clip":true},"encoding":{"x":{"field":"i","type":"quantitative","axis":null},"y":{"field":"v","type":"quantitative"},"color":{"field":"s","type":"nominal","scale":{"domain":["o","b"],"range":["#f0651f","#3b7ddd"]},"legend":null}}},
     {"data":{"name":"p3lvl"},"mark":{"type":"rule","strokeWidth":2,"color":"#f5a623","clip":true},"encoding":{"x":{"field":"a","type":"quantitative","axis":null},"x2":{"field":"b"},"y":{"field":"v","type":"quantitative"}}},
     {"data":{"name":"p3sig"},"mark":{"type":"point","shape":"M-1,-0.75L1,-0.75L1,0.75L-1,0.75Z","size":36,"filled":true,"opacity":1},"encoding":{"x":{"field":"i","type":"quantitative","axis":null},"y":{"field":"v","type":"quantitative"},"color":{"condition":{"test":"datum.t=='Short'","value":"#f7525f"},"value":"#1ed760"}}},
     {"data":{"name":"p3sig"},"mark":{"type":"text","fontSize":4.6,"color":"#ffffff"},"encoding":{"x":{"field":"i","type":"quantitative","axis":null},"y":{"field":"v","type":"quantitative"},"text":{"field":"t"}}},
     {"data":{"name":"p3txt"},"mark":{"type":"text","fontSize":5,"color":"#4caf50"},"encoding":{"x":{"field":"i","type":"quantitative","axis":null},"y":{"field":"v","type":"quantitative"},"text":{"field":"t"}}},
     {"data":{"name":"p3tag"},"transform":[{"filter":"datum.p=='a'"}],"mark":{"type":"point","shape":"M-1,-0.42L1,-0.42L1,0.42L-1,0.42Z","size":78,"filled":true,"opacity":1},"encoding":{"x":{"datum":92,"type":"quantitative","axis":null},"y":{"field":"y","type":"quantitative"},"color":{"field":"c","type":"nominal","scale":{"domain":["red","teal","blue","orange","green","dgreen","gray","yellow","white","black","navy"],"range":["#f23645","#22ab94","#2962ff","#f57c00","#22e522","#1b8c24","#787b86","#ffee33","#e6e7ea","#000000","#1d1de0"]},"legend":null}}},
     {"data":{"name":"p3tag"},"transform":[{"filter":"datum.p=='a'"}],"mark":{"type":"text","fontSize":4.9},"encoding":{"x":{"datum":92,"type":"quantitative","axis":null},"y":{"field":"y","type":"quantitative"},"text":{"field":"t"},"color":{"condition":{"test":"indexof(['yellow','white','green'],datum.c)>=0","value":"#131722"},"value":"#ffffff"}}}
    ],"resolve":{"scale":{"color":"independent"}}}
   ],
   "resolve":{"scale":{"y":"independent","color":"independent"}}
  },
  {"width":286,"height":85,
   "layer":[
    {"data":{"values":[{"r":12.3}]},"mark":{"type":"rule","color":"#2a2e39"},"encoding":{"y":{"field":"r","type":"quantitative"}}},
    {"data":{"name":"p3"},"transform":[{"window":[{"op":"lag","field":"m","as":"pm"}],"sort":[{"field":"i"}]}],"mark":{"type":"bar","size":1.6},"encoding":{"x":{"field":"i","type":"quantitative","scale":{"domain":[-0.71,88.45],"nice":false,"zero":false},"axis":null},"y":{"field":"m","type":"quantitative","scale":{"domain":[-17.8,12.3],"nice":false,"zero":false},"axis":{"orient":"right","values":[10,-10],"format":".2f","grid":false,"labelOverlap":false,"labelFlush":false,"labelPadding":4,"minExtent":22,"maxExtent":22,"title":null}},"y2":{"datum":0},"color":{"condition":[{"test":"datum.m>=0","value":"#2fcf36"},{"test":"datum.pm==null||datum.m<=datum.pm","value":"#e8262b"}],"value":"#701c20"}}},
    {"data":{"name":"p3tag"},"transform":[{"filter":"datum.p=='m'"}],"mark":{"type":"point","shape":"M-1,-0.42L1,-0.42L1,0.42L-1,0.42Z","size":78,"filled":true,"opacity":1},"encoding":{"x":{"datum":92,"type":"quantitative","axis":null},"y":{"field":"y","type":"quantitative"},"color":{"field":"c","type":"nominal","scale":{"domain":["red","teal","blue","orange","green","dgreen","gray","yellow","white","black","navy"],"range":["#f23645","#22ab94","#2962ff","#f57c00","#22e522","#1b8c24","#787b86","#ffee33","#e6e7ea","#000000","#1d1de0"]},"legend":null}}},
    {"data":{"name":"p3tag"},"transform":[{"filter":"datum.p=='m'"}],"mark":{"type":"text","fontSize":4.9},"encoding":{"x":{"datum":92,"type":"quantitative","axis":null},"y":{"field":"y","type":"quantitative"},"text":{"field":"t"},"color":{"condition":{"test":"indexof(['yellow','white','green'],datum.c)>=0","value":"#131722"},"value":"#ffffff"}}}
   ],
   "resolve":{"scale":{"color":"independent"}}
  },
  {"width":286,"height":112,
   "layer":[
    {"data":{"values":[{"r":75}]},"mark":{"type":"rule","color":"#2a2e39"},"encoding":{"y":{"field":"r","type":"quantitative"}}},
    {"data":{"name":"p3"},"mark":{"type":"bar","size":3.1,"color":"#bfc1c8"},"encoding":{"x":{"field":"i","type":"quantitative","scale":{"domain":[-0.71,88.45],"nice":false,"zero":false},"axis":null},"y":{"field":"g","type":"quantitative","scale":{"domain":[-68,75],"nice":false,"zero":false},"axis":{"orient":"right","values":[-25],"format":".2f","grid":true,"labelOverlap":false,"labelFlush":false,"labelPadding":4,"minExtent":22,"maxExtent":22,"title":null}},"y2":{"datum":0}}},
    {"data":{"name":"p3"},"mark":{"type":"area","color":"#3035b8","opacity":0.55,"interpolate":"monotone"},"encoding":{"x":{"field":"i","type":"quantitative","axis":null},"y":{"field":"b","type":"quantitative"},"y2":{"datum":0}}},
    {"data":{"values":[{"r":0}]},"mark":{"type":"rule","color":"#8a8d96","strokeWidth":0.8},"encoding":{"y":{"field":"r","type":"quantitative"}}},
    {"data":{"name":"refs"},"mark":{"type":"rule","strokeWidth":1},"encoding":{"y":{"field":"r","type":"quantitative"},"color":{"field":"k","type":"nominal","scale":{"domain":["r","g"],"range":["#b3262b","#1f7a2a"]},"legend":null}}},
    {"data":{"name":"p3y"},"mark":{"type":"line","color":"#e5d33a","strokeWidth":1.2,"interpolate":"monotone","clip":true},"encoding":{"x":{"field":"i","type":"quantitative","axis":null},"y":{"field":"v","type":"quantitative"}}},
    {"data":{"name":"p3tag"},"transform":[{"filter":"datum.p=='o'"}],"mark":{"type":"point","shape":"M-1,-0.42L1,-0.42L1,0.42L-1,0.42Z","size":78,"filled":true,"opacity":1},"encoding":{"x":{"datum":92,"type":"quantitative","axis":null},"y":{"field":"y","type":"quantitative"},"color":{"field":"c","type":"nominal","scale":{"domain":["red","teal","blue","orange","green","dgreen","gray","yellow","white","black","navy"],"range":["#f23645","#22ab94","#2962ff","#f57c00","#22e522","#1b8c24","#787b86","#ffee33","#e6e7ea","#000000","#1d1de0"]},"legend":null}}},
    {"data":{"name":"p3tag"},"transform":[{"filter":"datum.p=='o'"}],"mark":{"type":"text","fontSize":4.9},"encoding":{"x":{"datum":92,"type":"quantitative","axis":null},"y":{"field":"y","type":"quantitative"},"text":{"field":"t"},"color":{"condition":{"test":"indexof(['yellow','white','green'],datum.c)>=0","value":"#131722"},"value":"#ffffff"}}}
   ],
   "resolve":{"scale":{"color":"independent"}}
  },
  {"width":286,"height":20,"data":{"name":"p3lab"},"mark":{"type":"text","fontSize":5.6,"color":"#b2b5be"},"encoding":{"x":{"field":"i","type":"quantitative","scale":{"domain":[-0.71,88.45],"nice":false,"zero":false},"axis":null},"text":{"field":"t"}}}
 ]}
]
}
